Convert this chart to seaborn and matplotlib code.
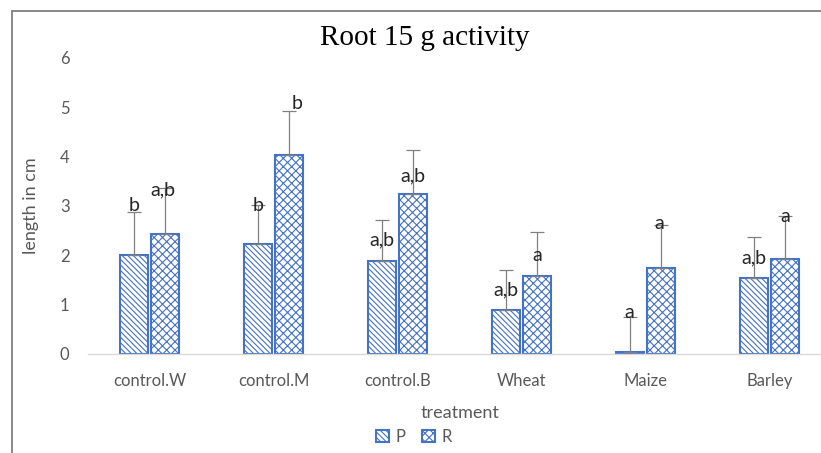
import numpy as np
import pandas as pd
import matplotlib
matplotlib.use("Agg")
import matplotlib.pyplot as plt
from matplotlib.lines import Line2D
import seaborn as sns

# ---- data ----
categories = ["control.W", "control.M", "control.B", "Wheat", "Maize", "Barley"]
series = ["P", "R"]
p_values = [2.00, 2.23, 1.88, 0.89, 0.04, 1.54]
r_values = [2.43, 4.03, 3.24, 1.58, 1.74, 1.92]
p_err = [0.87, 0.80, 0.83, 0.81, 0.70, 0.83]
r_err = [0.93, 0.90, 0.89, 0.89, 0.87, 0.88]
p_labels = ["b", "b", "a,b", "a,b", "a", "a,b"]
r_labels = ["a,b", "b", "a,b", "a", "a", "a"]
y_ticks = [0, 1, 2, 3, 4, 5, 6]

# label placement (layout, data units)
p_label_y = [3.02, 3.02, 2.31, 1.30, 0.85, 1.94]
r_label_y = [3.32, 5.08, 3.62, 2.00, 2.65, 2.79]
r_label_dx = [-0.02, 0.06, 0.0, 0.0, -0.02, 0.0]

df = pd.DataFrame({
    "treatment": categories * 2,
    "series": ["P"] * len(categories) + ["R"] * len(categories),
    "length": p_values + r_values,
})

sns.set_theme(style="white")
plt.rcParams["font.family"] = ["Lato", "DejaVu Sans"]
plt.rcParams["hatch.linewidth"] = 0.8

BLUE = "#4472C4"
GREY_TXT = "#595959"

W, H = 821, 453
fig = plt.figure(figsize=(W / 100, H / 100), dpi=100)
ax = fig.add_axes([87.5 / W, (H - 354) / H, 744 / W, 296 / H])

sns.barplot(data=df, x="treatment", y="length", hue="series", order=categories,
            hue_order=series, width=0.51, gap=0.11, ax=ax, errorbar=None,
            palette=["white", "white"], edgecolor=BLUE, linewidth=1.5, legend=False)

bar_containers = list(ax.containers)
hatches = ["\\" * 6, "xxxx"]
errs = [p_err, r_err]
labels = [p_labels, r_labels]
label_ys = [p_label_y, r_label_y]
label_dx = [[0] * 6, r_label_dx]
for k, cont in enumerate(bar_containers):
    xs, tops = [], []
    for bar in cont.patches:
        bar.set_hatch(hatches[k])
        bar.set_edgecolor(BLUE)
        xs.append(bar.get_x() + bar.get_width() / 2)
        tops.append(bar.get_height())
    xs = np.array(xs)
    tops = np.array(tops)
    ax.errorbar(xs, tops, yerr=[np.zeros(len(xs)), errs[k]], fmt="none",
                ecolor="#808080", elinewidth=0.9, capsize=5, capthick=0.9, zorder=3)
    for i in range(len(xs)):
        ax.text(xs[i] + label_dx[k][i], label_ys[k][i], labels[k][i], ha="center",
                va="center", fontsize=14, color="#262626", zorder=4)

ax.set_ylim(0, 6)
ax.set_xlim(-0.5, len(categories) - 0.5)
ax.set_yticks(y_ticks)
ax.set_yticklabels([str(t) for t in y_ticks])
for s in ["top", "right", "left"]:
    ax.spines[s].set_visible(False)
ax.spines["bottom"].set_color("#d9d9d9")
ax.spines["bottom"].set_linewidth(1.0)
ax.tick_params(axis="both", length=0, colors=GREY_TXT, labelsize=12)
ax.tick_params(axis="x", pad=14)
ax.tick_params(axis="y", pad=13)
ax.set_xlabel("treatment", fontsize=13, color=GREY_TXT, labelpad=11)
ax.set_ylabel("length in cm", fontsize=13, color=GREY_TXT, labelpad=15)

fig.text(425 / W, 1 - 38 / H, "Root 15 g activity", ha="center", va="center",
         fontsize=21, family="Liberation Serif", color="#000000")

handles = [bar_containers[0].patches[0], bar_containers[1].patches[0]]
leg = fig.legend(handles, series, loc="center", bbox_to_anchor=(414 / W, 1 - 437 / H),
                 ncol=2, frameon=False, handlelength=0.75, handleheight=0.7,
                 handletextpad=0.4, columnspacing=1.0, fontsize=12)
for t in leg.get_texts():
    t.set_color(GREY_TXT)

# outer frame (top and left borders)
fig.add_artist(Line2D([12 / W, 12 / W], [0, 1 - 11 / H], transform=fig.transFigure,
                      color="#7f7f7f", lw=1.3))
fig.add_artist(Line2D([12 / W, 1], [1 - 11 / H, 1 - 11 / H], transform=fig.transFigure,
                      color="#7f7f7f", lw=1.3))

fig.savefig("out.png", dpi=100)
